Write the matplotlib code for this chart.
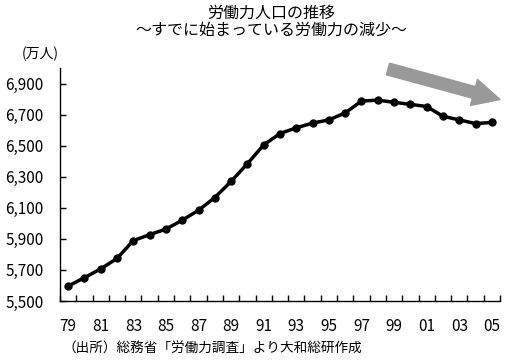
import matplotlib
matplotlib.use("Agg")
import matplotlib.pyplot as plt
import matplotlib.patches as mpatches

plt.rcParams['font.family'] = ['Noto Sans CJK JP', 'DejaVu Sans']

years = ['79', '80', '81', '82', '83', '84', '85', '86', '87', '88', '89', '90',
         '91', '92', '93', '94', '95', '96', '97', '98', '99', '00', '01', '02',
         '03', '04', '05']
labor_force = [5596, 5650, 5707, 5774, 5889, 5927, 5963, 6020, 6084, 6166,
               6270, 6384, 6505, 6578, 6615, 6645, 6666, 6711, 6787, 6793,
               6779, 6766, 6752, 6689, 6666, 6642, 6650]
y_ticks = [5500, 5700, 5900, 6100, 6300, 6500, 6700, 6900]


def main():
    fig = plt.figure(figsize=(5.11, 3.62), dpi=100)
    ax = fig.add_axes([60 / 511, 1 - 301 / 362, 440 / 511, 233 / 362])

    x = list(range(len(years)))
    ax.plot(x, labor_force, color='black', linewidth=2.5, marker='o',
            markersize=5, markerfacecolor='black', markeredgecolor='black')

    ax.set_xlim(-0.5, len(years) - 0.5)
    ax.set_ylim(5500, 7000)

    ax.set_xticks(x[::2])
    ax.set_xticklabels(years[::2])
    ax.set_xticks([i - 0.5 for i in range(len(years) + 1)], minor=True)
    ax.tick_params(axis='x', which='major', length=0, pad=12, labelsize=11)
    ax.tick_params(axis='x', which='minor', length=4, direction='in', width=1)

    ax.set_yticks(y_ticks)
    ax.set_yticklabels([f'{v:,}' for v in y_ticks])
    ax.tick_params(axis='y', length=4, direction='in', width=1, pad=12, labelsize=11)

    for side in ['top', 'right']:
        ax.spines[side].set_visible(False)
    for side in ['left', 'bottom']:
        ax.spines[side].set_linewidth(1)

    fig.text(271 / 511, 1 - 13 / 362, '労働力人口の推移', ha='center', va='center',
             fontsize=11.5)
    fig.text(271 / 511, 1 - 30 / 362, '～すでに始まっている労働力の減少～', ha='center',
             va='center', fontsize=11.5)
    fig.text(22 / 511, 1 - 54 / 362, '(万人)', ha='left', va='center', fontsize=10)
    fig.text(63 / 511, 1 - 349 / 362, '（出所）総務省「労働力調査」より大和総研作成',
             ha='left', va='center', fontsize=9.8)

    arrow = mpatches.FancyArrow(388, 293, 112, -30.5, width=12, head_width=27,
                                head_length=27, length_includes_head=True,
                                color='#999999', transform=None)
    fig.patches.append(arrow)

    fig.savefig('out.png', dpi=100)


main()
